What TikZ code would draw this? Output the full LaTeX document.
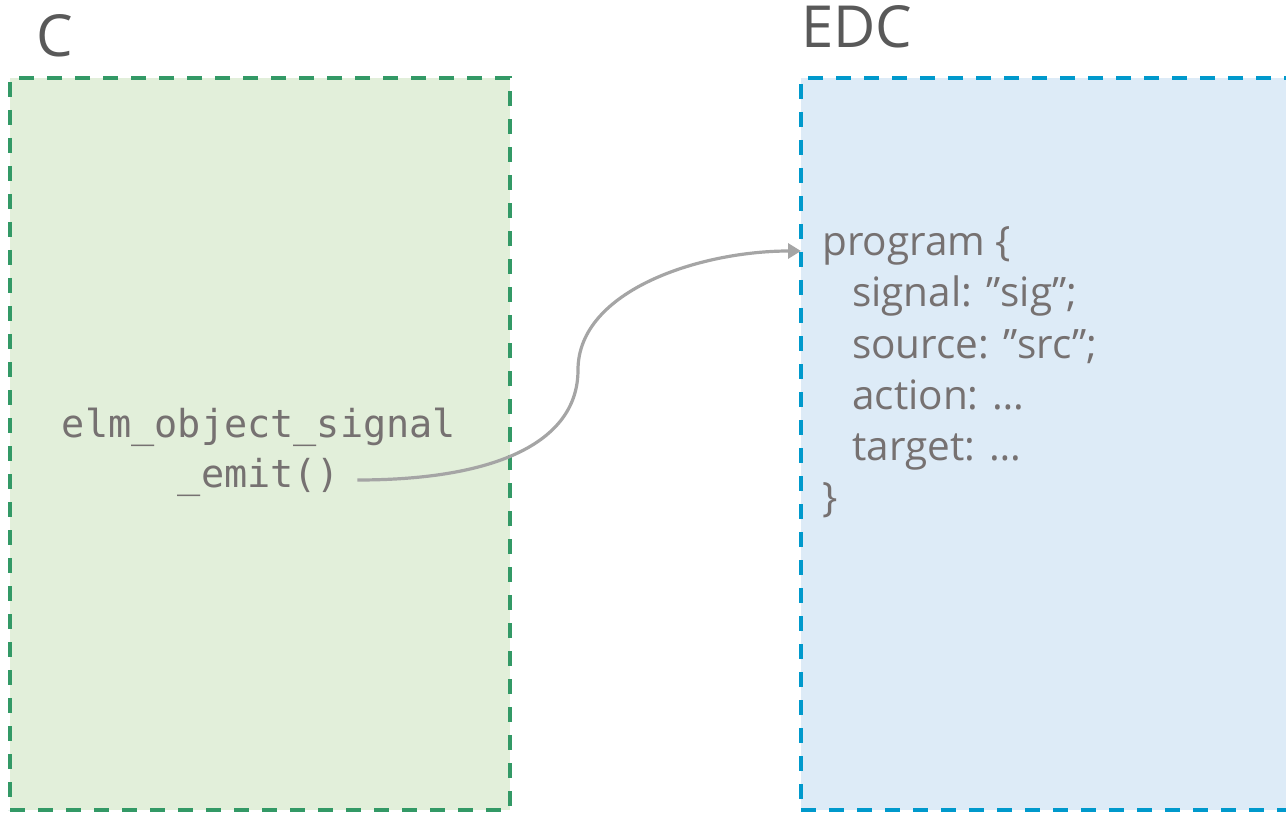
\documentclass[tikz,border=0pt]{standalone}
\usepackage{fontspec}
\setmainfont{Open Sans}
\newfontfamily\codefont{DejaVu Sans Mono}
\usetikzlibrary{arrows.meta,calc}
\definecolor{greenstroke}{HTML}{339966}
\definecolor{greenfill}{HTML}{E2EFDA}
\definecolor{bluestroke}{HTML}{0099CC}
\definecolor{bluefill}{HTML}{DDEBF7}
\definecolor{titlegray}{HTML}{595959}
\definecolor{textgray}{HTML}{767171}
\definecolor{arrowgray}{HTML}{A5A5A5}
\tikzset{
  panel/.style={rectangle, inner sep=0pt, outer sep=0pt, line width=3.4pt,
    dash pattern=on 15pt off 13pt},
  title/.style={anchor=base west, inner sep=0pt, text=titlegray,
    font=\fontsize{58}{60}\selectfont},
  code/.style={anchor=base, inner sep=0pt, text=textgray,
    font=\codefont\fontsize{38.5}{40}\selectfont},
  prog/.style={anchor=base west, inner sep=0pt, text=textgray,
    font=\fontsize{40.5}{42}\selectfont},
  conn/.style={draw=arrowgray, line width=3.2pt,
    -{Triangle[length=13pt,width=15pt]}},
}
\begin{document}
\begin{tikzpicture}[x=1pt,y=-1pt]
\useasboundingbox (0,0) rectangle (1286,813);
\clip (0,0) rectangle (1286,813);
% panels
\node[panel, draw=greenstroke, fill=greenfill, minimum width=500pt, minimum height=732pt] (cbox) at (260,444) {};
\node[panel, draw=bluestroke, fill=bluefill, minimum width=499pt, minimum height=732pt] (edc) at (1050.5,444) {};
% titles
\node[title] (ctitle) at (36,57) {C};
\node[title] (edctitle) at (801,48) {EDC};
% code
\node[code] (c1) at (259,437) {elm\_object\_signal};
\node[code] (c2) at (259,487) {\_emit()};
% program text
\node[prog] (p0) at (822,256) {program \{};
\node[prog] (p1) at (852,307) {signal: ”sig”;};
\node[prog] (p2) at (852,358) {source: ”src”;};
\node[prog] (p3) at (852,409) {action: …};
\node[prog] (p4) at (852,460) {target: …};
\node[prog] (p5) at (822,511) {\}};
% connector
\coordinate (s) at ($(c2.base east)+(17,-7)$);
\path (edc.west) ++(0,-193) coordinate (tip);
\coordinate (mid) at (578,370);
\draw[conn] (s) .. controls +(143,0) and +(0,70) .. (mid)
  .. controls +(0,-80) and +(-100,0) .. (tip);
\end{tikzpicture}
\end{document}
